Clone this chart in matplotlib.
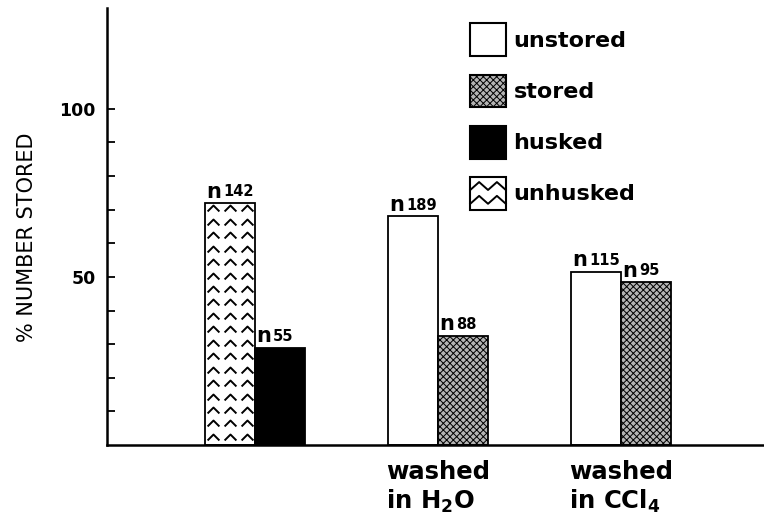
import numpy as np
import matplotlib
matplotlib.use("Agg")
from matplotlib import pyplot as plt
from matplotlib.path import Path
from matplotlib.patches import Rectangle
from matplotlib.lines import Line2D
from matplotlib.legend_handler import HandlerBase

# groups along the x axis (first group has no label)
groups = ["", "washed\nin H$_{\\mathbf{2}}$O", "washed\nin CCl$_{\\mathbf{4}}$"]
# left / right bar in each group
left_kind = ["unhusked", "unstored", "unstored"]
right_kind = ["husked", "stored", "stored"]
left_values = [72, 68, 51.5]
right_values = [29, 32.5, 48.5]
left_n = [142, 189, 115]
right_n = [55, 88, 95]

legend_labels = ["unstored", "stored", "husked", "unhusked"]

plt.rcParams['font.family'] = ['DejaVu Sans']
plt.rcParams['hatch.linewidth'] = 0.7

styles = {
    "unstored": dict(facecolor="white", hatch=None),
    "stored": dict(facecolor="#b4b4b4", hatch="xxxxx"),
    "husked": dict(facecolor="black", hatch=None),
    "unhusked": dict(facecolor="white", hatch=None),
}

chevron = Path([(-1, -0.5), (0, 0.5), (1, -0.5)],
               [Path.MOVETO, Path.LINETO, Path.LINETO])


class ZigzagHandler(HandlerBase):
    def create_artists(self, legend, orig_handle, xdescent, ydescent,
                       width, height, fontsize, trans):
        box = Rectangle((-xdescent, -ydescent), width, height,
                        facecolor="white", edgecolor="black", lw=1.5,
                        transform=trans)
        arts = [box]
        for frac in (0.3, 0.72):
            xs = np.linspace(-xdescent, -xdescent + width, 5)
            yb = -ydescent + height * (frac - 0.12)
            yt = -ydescent + height * (frac + 0.12)
            ys = [yb, yt, yb, yt, yb]
            arts.append(Line2D(xs, ys, color="black", lw=1.4, transform=trans))
        return arts


fig = plt.figure(figsize=(7.64, 5.19), dpi=100)
ax = fig.add_axes([0.140, 0.1426, 0.86, 0.842])

width = 0.273
x = np.arange(len(groups))

for i in range(len(groups)):
    for kind, val, n, off in ((left_kind[i], left_values[i], left_n[i], -1),
                              (right_kind[i], right_values[i], right_n[i], 0)):
        st = styles[kind]
        xl = x[i] + off * width
        ax.bar(xl, val, width, align="edge", facecolor=st["facecolor"],
               hatch=st["hatch"], edgecolor="black", linewidth=1.3, zorder=2)
        if kind == "unhusked":
            step = 4.0
            ys = np.arange(step * 0.6, val - 1, step)
            for k in range(3):
                xc = xl + width * (k + 0.5) / 3
                ax.plot(np.full(len(ys), xc), ys, linestyle="none",
                        marker=chevron, markersize=8.5, markerfacecolor="none",
                        markeredgecolor="black", markeredgewidth=1.4, zorder=3)
        ax.annotate("n", (xl, val), xytext=(1, 1), textcoords="offset points",
                    ha="left", va="bottom", fontsize=15, fontweight="bold")
        ax.annotate(str(n), (xl, val), xytext=(13, 2.5), textcoords="offset points",
                    ha="left", va="bottom", fontsize=10.5, fontweight="bold")

ax.set_xlim(-0.809, 2.78)
ax.set_ylim(0, 130)
ax.set_xticks(x)
ax.set_xticklabels(groups, fontsize=17.5, fontweight="bold", linespacing=1.15,
                   multialignment="left")
ax.tick_params(axis="x", length=0, pad=11)
ax.set_yticks([50, 100])
ax.set_yticks([10, 20, 30, 40, 60, 70, 80, 90], minor=True)
ax.set_yticklabels(["50", "100"], fontsize=12.5, fontweight="bold")
ax.tick_params(axis="y", which="both", direction="in", length=6, width=1.3, pad=8)
ax.set_ylabel("% NUMBER STORED", fontsize=15)
ax.yaxis.set_label_coords(-0.107, 0.475)

for s in ("top", "right"):
    ax.spines[s].set_visible(False)
for s in ("left", "bottom"):
    ax.spines[s].set_linewidth(1.8)

handles = []
for lab in legend_labels:
    st = styles[lab]
    handles.append(Rectangle((0, 0), 1, 1, facecolor=st["facecolor"],
                             hatch=st["hatch"], edgecolor="black", lw=1.5))
leg = ax.legend(handles, legend_labels, loc="upper left",
                bbox_to_anchor=(0.536, 0.99), frameon=False,
                prop=dict(size=16, weight="bold"), handlelength=1.6,
                handleheight=1.9, labelspacing=0.82, handletextpad=0.35,
                borderpad=0, handler_map={handles[3]: ZigzagHandler()})

fig.savefig("out.png", dpi=100)
